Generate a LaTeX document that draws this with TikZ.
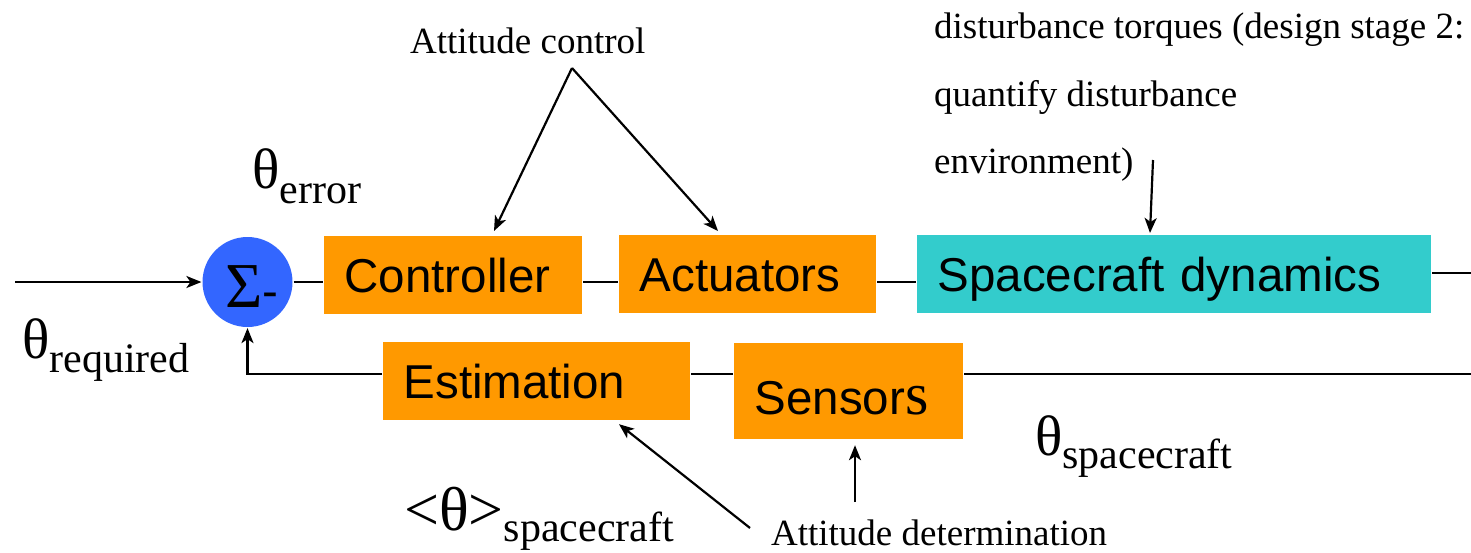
\documentclass[tikz,border=0pt]{standalone}
\usepackage{fontspec}
\setmainfont{Liberation Serif}
\newfontfamily\arialf{Liberation Sans}
\newfontfamily\timesf{Liberation Serif}
\usetikzlibrary{arrows.meta,calc}
\definecolor{boxorange}{HTML}{FF9900}
\definecolor{boxcyan}{HTML}{33CCCC}
\definecolor{sumblue}{HTML}{3366FF}
\begin{document}
\begin{tikzpicture}[x=1pt,y=-1pt,
  line width=2.2pt,
  arr/.style={-{Stealth[length=15pt,width=12pt,inset=4pt]}},
  blockbox/.style={anchor=north west, inner xsep=20.5pt, inner ysep=0pt, align=left,
    text height=34pt, text depth=0pt, font=\arialf\fontsize{47.5}{50}\selectfont},
  lbl/.style={anchor=base west, inner sep=0pt, font=\fontsize{37}{40}\selectfont},
  thetalbl/.style={anchor=base west, inner sep=0pt}
]
\useasboundingbox (0,0) rectangle (1471,552);

% blocks
\node[circle, fill=sumblue, minimum size=90pt, inner sep=0pt, text height=50pt, text depth=0pt] (sum) at (247.5,282)
  {\hspace*{9pt}{\fontsize{64}{66}\selectfont Σ}{\arialf\fontsize{47.5}{50}\selectfont -}};
\node[blockbox, fill=boxorange, text width=217pt, minimum height=78pt] (ctrl) at (323,235) {Controller};
\node[blockbox, fill=boxorange, text width=216pt, minimum height=78pt] (act) at (618,234) {Actuators};
\node[blockbox, fill=boxcyan, text width=473pt, minimum height=78pt] (dyn) at (916,234) {Spacecraft dynamics};
\node[blockbox, fill=boxorange, text width=266pt, minimum height=78pt] (est) at (382,341) {Estimation};
\node[blockbox, fill=boxorange, text width=188pt, minimum height=96pt, text height=46pt] (sen) at (733,342)
  {Sensor{\timesf\fontsize{60}{60}\selectfont s}};

% labels
\node[lbl] (acl) at (409,53) {Attitude control};
\node[lbl] (adl) at (770,545) {Attitude determination};
\node[anchor=north west, inner sep=0pt, align=left, font=\fontsize{37}{67.5}\selectfont] (dist) at (933,12)
  {disturbance torques (design stage 2:\\quantify disturbance\\environment)};

\node[thetalbl] (threq) at (21,358)
  {{\fontsize{57}{60}\selectfont θ}\raisebox{-14pt}{\fontsize{42}{44}\selectfont required}};
\node[thetalbl] (therr) at (251,188)
  {{\fontsize{57}{60}\selectfont θ}\raisebox{-15pt}{\fontsize{42}{44}\selectfont error}};
\node[thetalbl] (thsc) at (1034,455)
  {{\fontsize{57}{60}\selectfont θ}\raisebox{-13pt}{\fontsize{42}{44}\selectfont spacecraft}};
\node[thetalbl] (thest) at (403,530)
  {{\fontsize{62}{66}\selectfont <θ>}\raisebox{-11pt}{\fontsize{42}{44}\selectfont spacecraft}};

% coordinates
\coordinate (in) at (15,282);
\coordinate (out) at (1471,273);
\coordinate (fb) at (1471,374);
\coordinate (acsrc) at (572,68);
\coordinate (dsrc) at (1153,160);
\coordinate (esrc) at (750,528);
\coordinate (ssrc) at (855,502);

% forward path
\draw[arr] (in) -- (sum.west);
\draw (sum.east) -- (sum.east -| ctrl.west);
\draw (ctrl.east |- sum.east) -- (act.west |- sum.east);
\draw (act.east |- sum.east) -- (dyn.west |- sum.east);
\draw (dyn.east |- out) -- (out);

% feedback path
\draw[line width=2.6pt] (fb) -- (sen.east |- fb);
\draw (sen.west |- fb) -- (est.east |- fb);
\draw[arr] (est.west |- fb) -| (sum.south);

% annotation arrows
\draw[arr] (acsrc) -- ($(ctrl.north west)+(171,-4)$);
\draw[arr] (acsrc) -- ($(act.north west)+(100,-3)$);
\draw[arr] (dsrc) -- ($(dyn.north west)+(234,-1)$);
\draw[arr] (esrc) -- ($(est.south west)+(237,3)$);
\draw[arr] (ssrc) -- ($(sen.south west)+(122,5)$);
\end{tikzpicture}
\end{document}
